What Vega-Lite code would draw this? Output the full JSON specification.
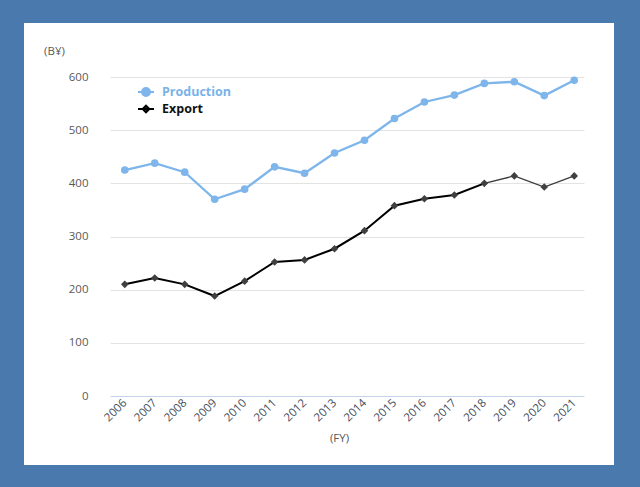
{
  "$schema": "https://vega.github.io/schema/vega-lite/v6.json",
  "autosize": {"type": "none"},
  "width": 590,
  "height": 442,
  "padding": {"left": 24, "top": 23, "right": 26, "bottom": 22},
  "background": "#4a7aad",
  "config": {"view": {"fill": "white", "stroke": null}, "font": "Open Sans"},
  "data": {"values": [
    {"year": 2006, "series": "Production", "value": 425},
    {"year": 2007, "series": "Production", "value": 438},
    {"year": 2008, "series": "Production", "value": 421},
    {"year": 2009, "series": "Production", "value": 370},
    {"year": 2010, "series": "Production", "value": 389},
    {"year": 2011, "series": "Production", "value": 431},
    {"year": 2012, "series": "Production", "value": 419},
    {"year": 2013, "series": "Production", "value": 457},
    {"year": 2014, "series": "Production", "value": 481},
    {"year": 2015, "series": "Production", "value": 522},
    {"year": 2016, "series": "Production", "value": 553},
    {"year": 2017, "series": "Production", "value": 566},
    {"year": 2018, "series": "Production", "value": 588},
    {"year": 2019, "series": "Production", "value": 591},
    {"year": 2020, "series": "Production", "value": 565},
    {"year": 2021, "series": "Production", "value": 594},
    {"year": 2006, "series": "Export", "value": 210},
    {"year": 2007, "series": "Export", "value": 222},
    {"year": 2008, "series": "Export", "value": 210},
    {"year": 2009, "series": "Export", "value": 188},
    {"year": 2010, "series": "Export", "value": 216},
    {"year": 2011, "series": "Export", "value": 252},
    {"year": 2012, "series": "Export", "value": 256},
    {"year": 2013, "series": "Export", "value": 277},
    {"year": 2014, "series": "Export", "value": 311},
    {"year": 2015, "series": "Export", "value": 358},
    {"year": 2016, "series": "Export", "value": 371},
    {"year": 2017, "series": "Export", "value": 378},
    {"year": 2018, "series": "Export", "value": 400},
    {"year": 2019, "series": "Export", "value": 414},
    {"year": 2020, "series": "Export", "value": 393},
    {"year": 2021, "series": "Export", "value": 414}
  ]},
  "resolve": {
    "axis": {"x": "independent", "y": "independent"},
    "scale": {"color": "independent"},
    "legend": {"color": "independent"}
  },
  "layer": [
    {
      "transform": [{"filter": "datum.series === 'Production'"}],
      "mark": {"type": "line", "strokeWidth": 2.3},
      "encoding": {
        "x": {"field": "year", "type": "quantitative",
          "scale": {"domain": [2002.636, 2022.328], "nice": false, "zero": false},
          "axis": {"orient": "bottom", "offset": -69, "values": [2006,2007,2008,2009,2010,2011,2012,2013,2014,2015,2016,2017,2018,2019,2020,2021],
            "format": "d", "domain": false, "ticks": false, "grid": false, "labelAngle": -45, "labelAlign": "right", "labelBaseline": "middle",
            "labelPadding": 5, "labelColor": "#444e5c", "labelFontSize": 11.5, "labelFlush": false, "labelOverlap": false, "labelBound": false,
            "title": "(FY)", "titleX": 315, "titleY": 42, "titleAlign": "center", "titleBaseline": "middle", "titleFontWeight": "normal",
            "titleFontSize": 11.5, "titleColor": "#595959"}},
        "y": {"field": "value", "type": "quantitative",
          "scale": {"domain": [-129.78, 701.57], "nice": false, "zero": false},
          "axis": {"orient": "left", "offset": -86, "values": [0,100,200,300,400,500,600], "domain": false, "ticks": false, "grid": false,
            "labelPadding": 22, "labelColor": "#595959", "labelFontSize": 11.5, "title": "(B¥)", "titleX": -56, "titleY": 28, "titleAngle": 0,
            "titleAlign": "center", "titleBaseline": "middle", "titleFontWeight": "normal", "titleFontSize": 11.5, "titleColor": "#595959"}},
        "color": {"field": "series", "type": "nominal", "scale": {"domain": ["Production"], "range": ["#7eb5ea"]},
          "legend": {"orient": "none", "legendX": 113, "legendY": 60, "title": null, "padding": 0,
            "symbolType": "M-1,0L1,0M-0.5,0A0.5,0.5,0,1,0,0.5,0A0.5,0.5,0,1,0,-0.5,0Z", "symbolSize": 256, "symbolStrokeWidth": 2,
            "symbolFillColor": "#7eb5ea", "labelColor": "#7ab3e8",
            "labelFontSize": 12.5, "labelFontWeight": "bold", "labelFont": "Open Sans", "labelOffset": 7}}
      }
    },
    {
      "transform": [{"filter": "datum.series === 'Export' && datum.year <= 2018"}],
      "mark": {"type": "line", "strokeWidth": 2},
      "encoding": {
        "x": {"field": "year", "type": "quantitative", "scale": {"domain": [2002.636, 2022.328], "nice": false, "zero": false}, "axis": null},
        "y": {"field": "value", "type": "quantitative",
          "scale": {"domain": [-129.78, 701.57], "nice": false, "zero": false},
          "axis": {"orient": "right", "offset": -30, "values": [0,100,200,300,400,500,600], "domain": false, "labels": false, "grid": false,
            "ticks": true, "tickSize": -474, "tickWidth": 1,
            "tickColor": {"condition": {"test": "datum.value === 0", "value": "#c3d4ea"}, "value": "#e3e3e3"}, "title": null}},
        "color": {"field": "series", "type": "nominal", "scale": {"domain": ["Export"], "range": ["#000000"]},
          "legend": {"orient": "none", "legendX": 113, "legendY": 77, "title": null, "padding": 0,
            "symbolType": "M-1,0L1,0M0,-0.42L0.42,0L0,0.42L-0.42,0Z", "symbolSize": 256, "symbolStrokeWidth": 2,
            "symbolFillColor": "#333333", "labelColor": "#111111",
            "labelFontSize": 12.5, "labelFontWeight": "bold", "labelFont": "Open Sans", "labelOffset": 7}}
      }
    },
    {
      "transform": [{"filter": "datum.series === 'Export' && datum.year >= 2018"}],
      "mark": {"type": "line", "color": "#3a3a3a", "strokeWidth": 1.3},
      "encoding": {
        "x": {"field": "year", "type": "quantitative", "scale": {"domain": [2002.636, 2022.328], "nice": false, "zero": false}, "axis": null},
        "y": {"field": "value", "type": "quantitative", "scale": {"domain": [-129.78, 701.57], "nice": false, "zero": false}, "axis": null}
      }
    },
    {
      "mark": {"type": "point", "filled": true, "opacity": 1, "size": 58},
      "encoding": {
        "x": {"field": "year", "type": "quantitative", "scale": {"domain": [2002.636, 2022.328], "nice": false, "zero": false}, "axis": null},
        "y": {"field": "value", "type": "quantitative", "scale": {"domain": [-129.78, 701.57], "nice": false, "zero": false}, "axis": null},
        "shape": {"field": "series", "type": "nominal", "scale": {"domain": ["Production", "Export"], "range": ["circle", "diamond"]}, "legend": null},
        "color": {"field": "series", "type": "nominal", "scale": {"domain": ["Production", "Export"], "range": ["#7eb5ea", "#404040"]}, "legend": null}
      }
    }
  ]
}
